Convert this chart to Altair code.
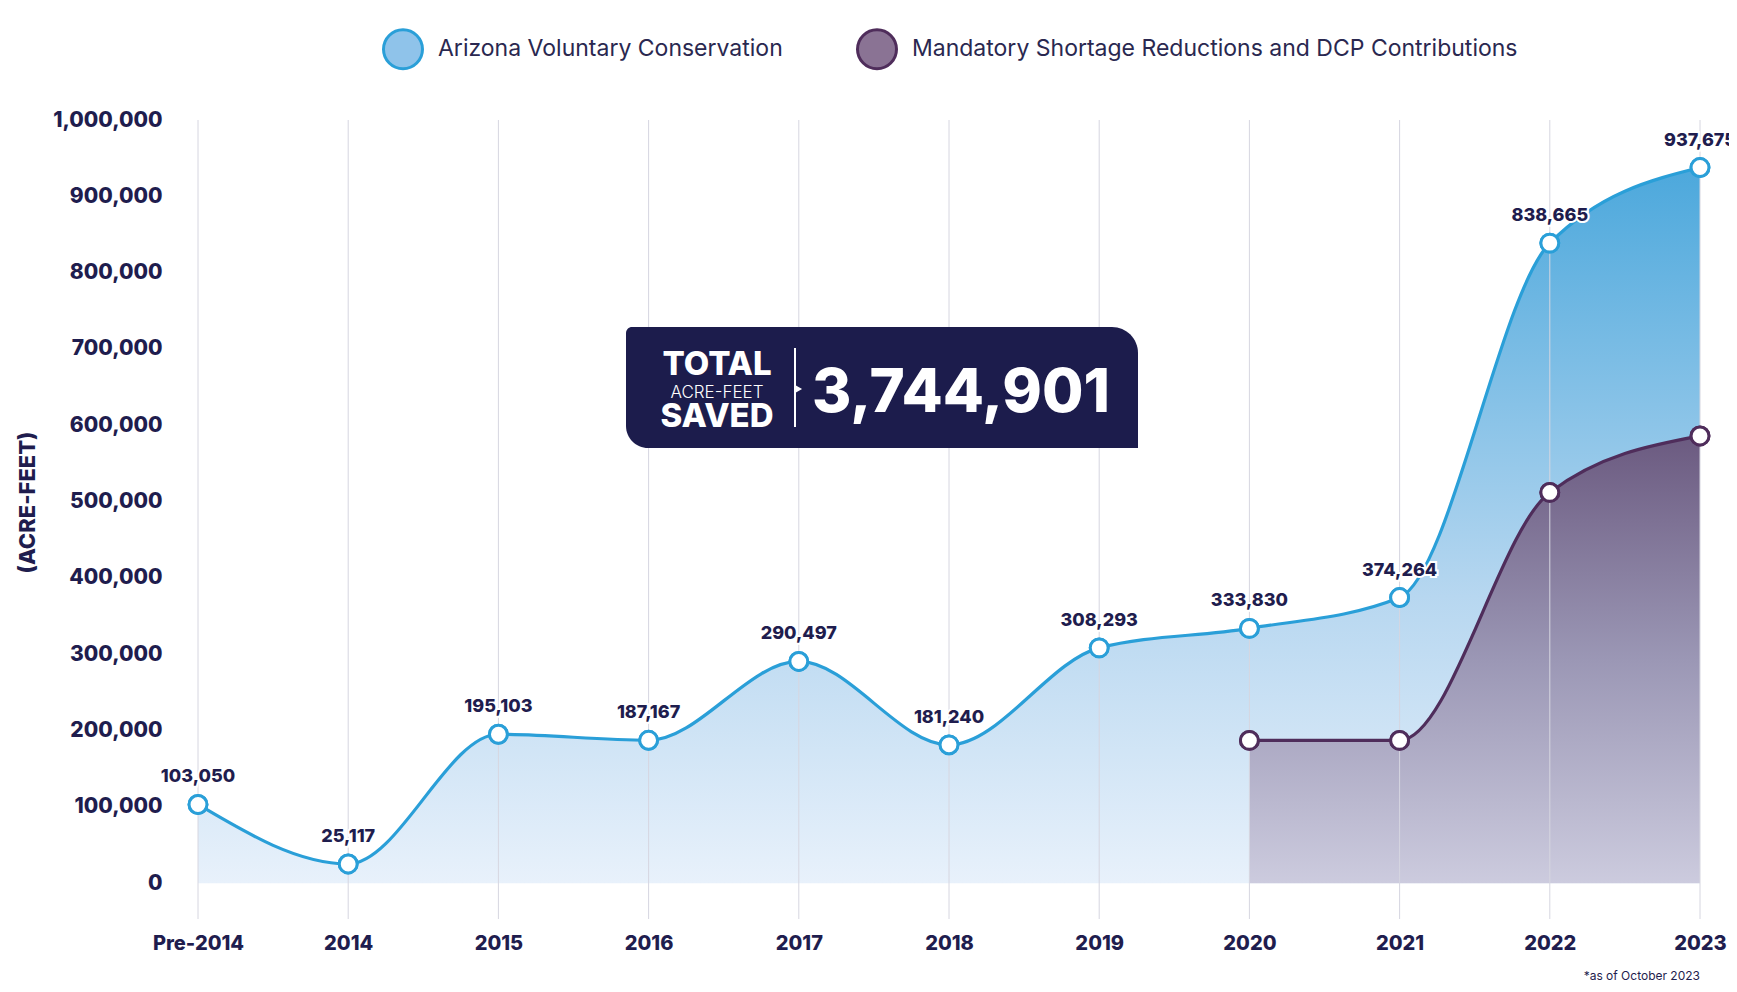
import altair as alt
import pandas as pd

years = ["Pre-2014", "2014", "2015", "2016", "2017", "2018", "2019", "2020", "2021", "2022", "2023"]
voluntary = [103050, 25117, 195103, 187167, 290497, 181240, 308293, 333830, 374264, 838665, 937675]
mandatory_years = ["2020", "2021", "2022", "2023"]
mandatory = [187000, 187000, 512000, 586000]
series_names = ["Arizona Voluntary Conservation", "Mandatory Shortage Reductions and DCP Contributions"]
y_ticks = [0, 100000, 200000, 300000, 400000, 500000, 600000, 700000, 800000, 900000, 1000000]
total_label = "3,744,901"

NAVY = "#1f1d4e"
BLUE = "#2a9fd8"
PURPLE = "#4f2d5b"
FONT = "Inter"

vol_df = pd.DataFrame({"year": years, "value": voluntary, "series": series_names[0]})
man_df = pd.DataFrame({"year": mandatory_years, "value": mandatory, "series": series_names[1]})
both_df = pd.concat([vol_df, man_df], ignore_index=True)
grid_df = pd.DataFrame({"year": years})

W, H = 1502, 799

x_axis = alt.Axis(title=None, labelAngle=0, ticks=False, domain=False, grid=False,
                  labelFont=FONT, labelFontSize=20, labelFontWeight=800,
                  labelColor=NAVY, labelPadding=14)
x_scale = alt.Scale(type="point", domain=years, padding=0)
x_enc = alt.X("year:N", sort=years, scale=x_scale, axis=x_axis)

y_axis = alt.Axis(title="(ACRE-FEET)", values=y_ticks, format=",", labelExpr="format(datum.value, ',')",
                  ticks=False, domain=False, grid=False, labelFont=FONT, labelFontSize=21,
                  labelFontWeight=800, labelColor=NAVY, labelPadding=36,
                  titleFont=FONT, titleFontSize=22, titleFontWeight=800,
                  titleColor=NAVY, titleX=-171, titleY=382, titleBaseline="middle")
y_scale = alt.Scale(domain=[-47000, 1000000], nice=False, zero=False)
y_enc = alt.Y("value:Q", scale=y_scale, axis=y_axis)

blue_grad = alt.Gradient(gradient="linear",
                         stops=[alt.GradientStop(color="#e8f1fb", offset=0),
                                alt.GradientStop(color="#b7d7f0", offset=0.4),
                                alt.GradientStop(color="#4ca8dc", offset=1)],
                         x1=1, x2=1, y1=1, y2=0)
purple_grad = alt.Gradient(gradient="linear",
                           stops=[alt.GradientStop(color="#cccbde", offset=0),
                                  alt.GradientStop(color="#9b97b5", offset=0.5),
                                  alt.GradientStop(color="#6b5a80", offset=1)],
                           x1=1, x2=1, y1=1, y2=0)

blue_area = alt.Chart(vol_df).mark_area(interpolate="monotone", fill=blue_grad).encode(
    x=x_enc, y=y_enc, y2=alt.datum(0))
purple_area = alt.Chart(man_df).mark_area(interpolate="monotone", fill=purple_grad).encode(
    x=x_enc, y=y_enc, y2=alt.datum(0))

grid = alt.Chart(grid_df).mark_rule(color="#d6d6e0", strokeWidth=1).encode(
    x=x_enc, y=alt.value(0), y2=alt.value(H))

blue_line = alt.Chart(vol_df).mark_line(interpolate="monotone", color=BLUE, strokeWidth=3.2).encode(
    x=x_enc, y=y_enc)
purple_line = alt.Chart(man_df).mark_line(interpolate="monotone", color=PURPLE, strokeWidth=3.2).encode(
    x=x_enc, y=y_enc)

leg = alt.Legend(title=None, orient="none", legendX=184, legendY=-92,
                 direction="horizontal", symbolType="circle", symbolSize=1520,
                 symbolStrokeWidth=3, labelFont=FONT, labelFontSize=23, labelLimit=800,
                 labelColor="#2a2850", labelOffset=14, columnPadding=68, padding=0)

legend_pts = alt.Chart(both_df).mark_point(filled=True, size=320, strokeWidth=3, opacity=1).encode(
    x=x_enc, y=y_enc,
    fill=alt.Fill("series:N", scale=alt.Scale(domain=series_names, range=["#8fc3ea", "#8a7394"]),
                  legend=leg),
    stroke=alt.Stroke("series:N", scale=alt.Scale(domain=series_names, range=[BLUE, PURPLE]),
                      legend=leg))

white_pts = alt.Chart(both_df).mark_point(filled=False, fill="white", fillOpacity=1, size=320,
                                          strokeWidth=3, opacity=1).encode(
    x=x_enc, y=y_enc,
    stroke=alt.Stroke("series:N", scale=alt.Scale(domain=series_names, range=[BLUE, PURPLE]),
                      legend=leg))

label_halo = alt.Chart(vol_df).mark_text(dy=-27, font=FONT, fontSize=18, fontWeight=800,
                                         stroke="white", strokeWidth=4, color="white").encode(
    x=x_enc, y=y_enc, text=alt.Text("value:Q", format=","))
labels = alt.Chart(vol_df).mark_text(dy=-27, font=FONT, fontSize=18, fontWeight=800,
                                     color=NAVY).encode(
    x=x_enc, y=y_enc, text=alt.Text("value:Q", format=","))

box_df = pd.DataFrame({"k": [0]})
box = alt.Chart(box_df).mark_rect(color="#1c1c4c", cornerRadiusTopLeft=6, cornerRadiusTopRight=26,
                                  cornerRadiusBottomLeft=22, cornerRadiusBottomRight=0).encode(
    x=alt.value(428), x2=alt.value(940), y=alt.value(207), y2=alt.value(328))
divider = alt.Chart(box_df).mark_rule(color="white", strokeWidth=2).encode(
    x=alt.value(597), y=alt.value(228), y2=alt.value(307))
chevron = alt.Chart(box_df).mark_point(shape="triangle-right", filled=True, color="white",
                                       size=50, opacity=1).encode(
    x=alt.value(601), y=alt.value(269))
t_total = alt.Chart(box_df).mark_text(text="TOTAL", font=FONT, fontSize=33, fontWeight=800,
                                      color="white", baseline="alphabetic").encode(
    x=alt.value(519), y=alt.value(255))
t_acre = alt.Chart(box_df).mark_text(text="ACRE-FEET", font=FONT, fontSize=17, fontWeight=300,
                                     color="white", baseline="alphabetic").encode(
    x=alt.value(519), y=alt.value(278))
t_saved = alt.Chart(box_df).mark_text(text="SAVED", font=FONT, fontSize=33, fontWeight=800,
                                      color="white", baseline="alphabetic").encode(
    x=alt.value(519), y=alt.value(307))
t_num = alt.Chart(box_df).mark_text(text=total_label, font=FONT, fontSize=60, fontWeight=800,
                                    color="white", baseline="alphabetic").encode(
    x=alt.value(763), y=alt.value(292))
footnote = alt.Chart(box_df).mark_text(text="*as of October 2023", font=FONT, fontSize=12,
                                       color=NAVY, align="right", baseline="middle").encode(
    x=alt.value(1502), y=alt.value(856))

chart = alt.layer(
    blue_area, purple_area, grid, blue_line, purple_line, legend_pts, white_pts,
    label_halo, labels, box, divider, chevron, t_total, t_acre, t_saved, t_num, footnote
).properties(
    width=W, height=H,
    autosize=alt.AutoSizeParams(type="none"),
    padding={"left": 190, "top": 112, "right": 29, "bottom": 65},
    background="white",
).configure_view(stroke=None)

chart.save("out.html", embed_options={"renderer": "svg", "actions": False})
